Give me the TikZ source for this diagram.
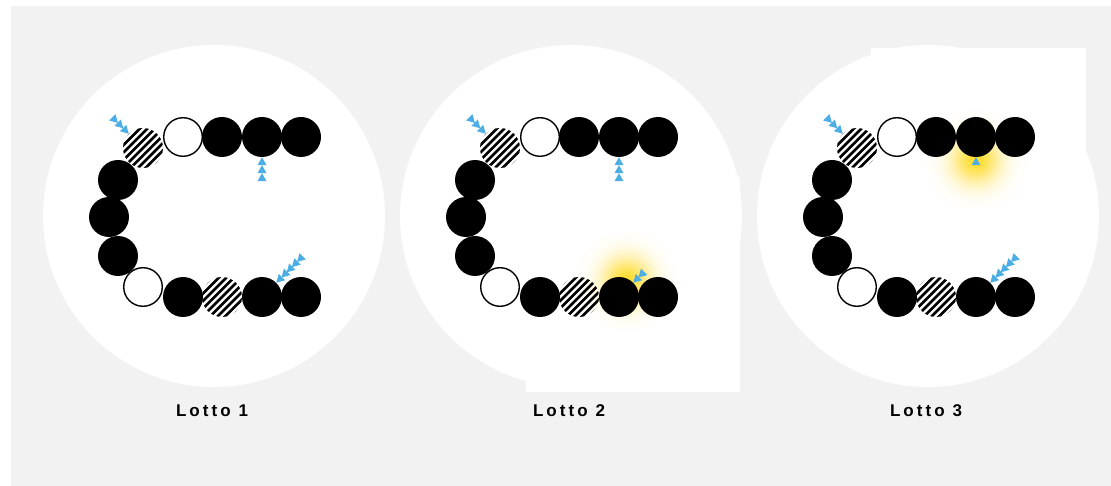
\documentclass[tikz,border=0pt]{standalone}
\usepackage{fontspec}
\setmainfont{Liberation Sans}
\newfontfamily\lblfont[LetterSpace=18]{Liberation Sans}
\usetikzlibrary{calc}
\definecolor{bg}{HTML}{F2F2F2}
\definecolor{tricol}{HTML}{4DADE5}
\definecolor{glowy}{HTML}{FFDC2E}
\tikzset{
  blk/.style={circle,fill=black,minimum size=40pt,inner sep=0pt},
  wht/.style={circle,draw=black,line width=1.4pt,fill=white,minimum size=38.6pt,inner sep=0pt},
  hat/.style={circle,minimum size=40pt,inner sep=0pt,
    path picture={\foreach \k in {-7,...,7}{\draw[line width=2.5pt] ($(path picture bounding box.center)+(\k*7.5-30,30)$) -- ++(60,-60);}}},
  bigdisc/.style={fill=white},
  lbl/.style={font=\lblfont\bfseries\fontsize{17}{20}\selectfont}
}
% glow: #1 x, #2 y
\newcommand\glowat[2]{%
  \foreach \r in {52,51,...,1}{%
    \pgfmathsetmacro\pc{100*exp(-(\r/24)^2)}%
    \fill[glowy!\pc!white] (#1,#2) circle (\r);}}
% tips: #1 anchor, #2 #3 step (y down), #4 angle, #5 count
\newcommand\tris[5]{%
  \foreach \k in {1,...,#5}{%
    \pgfmathsetmacro\kk{\k-1}%
    \fill[tricol,shift={($(#1)-\kk*(#2,#3)$)},rotate=#4] (0,0) -- (-8,4.5) -- (-8,-4.5) -- cycle;}}
% chain: #1 prefix, #2 x offset
\newcommand\chain[2]{%
  \node[hat] (#1h1) at (143+#2,148) {};
  \node[wht] (#1w1) at (183+#2,137) {};
  \node[blk] (#1b1) at (222+#2,137) {};
  \node[blk] (#1b2) at (262+#2,137) {};
  \node[blk] (#1b3) at (301+#2,137) {};
  \node[blk] (#1l1) at (118+#2,180) {};
  \node[blk] (#1l2) at (109+#2,217) {};
  \node[blk] (#1l3) at (118+#2,256) {};
  \node[wht] (#1w2) at (143+#2,287) {};
  \node[blk] (#1b4) at (183+#2,297) {};
  \node[hat] (#1h2) at (222+#2,297) {};
  \node[blk] (#1b5) at (262+#2,297) {};
  \node[blk] (#1b6) at (301+#2,297) {};
}
\begin{document}
\begin{tikzpicture}[x=1pt,y=-1pt]
\useasboundingbox (0,0) rectangle (1111,486);
\fill[bg] (11,6) rectangle (1111,486);
% white discs
\fill[bigdisc] (214,216) circle (171);
\fill[bigdisc] (571,216) circle (171);
\fill[bigdisc] (928,216) circle (171);
\fill[bigdisc] (526,177) rectangle (740,392);
\fill[bigdisc] (871,48) rectangle (1086,200);
% glows
\glowat{627}{281}
\glowat{976}{160}
% chains
\chain{a}{0}
\chain{b}{357}
\chain{c}{714}
% arrows
\tris{ah1.north west}{5.4}{5.4}{-45}{3}
\tris{ab2.south}{0}{-8}{90}{3}
\tris{ab5.north east}{-5.2}{5.2}{-135}{5}
\tris{bh1.north west}{5.4}{5.4}{-45}{3}
\tris{bb2.south}{0}{-8}{90}{3}
\tris{bb5.north east}{-5.2}{5.2}{-135}{2}
\tris{ch1.north west}{5.4}{5.4}{-45}{3}
\tris{cb2.south}{0}{-8}{90}{1}
\tris{cb5.north east}{-5.2}{5.2}{-135}{5}
% labels
\node[lbl] (la) at (212,411) {Lotto 1};
\node[lbl] (lb) at (569,411) {Lotto 2};
\node[lbl] (lc) at (926,411) {Lotto 3};
\end{tikzpicture}
\end{document}
